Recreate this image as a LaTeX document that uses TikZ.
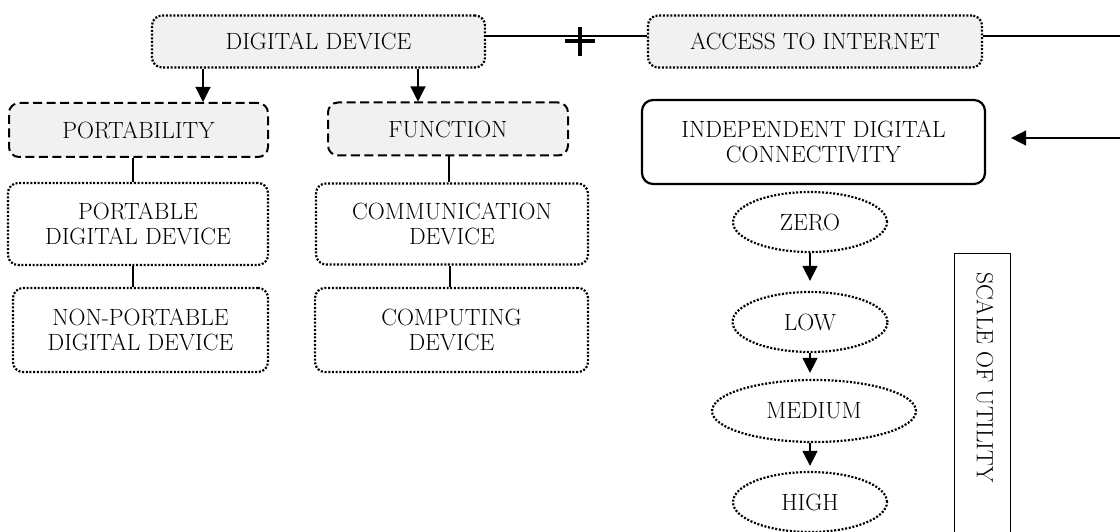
\documentclass[tikz,border=0pt]{standalone}
\usetikzlibrary{arrows.meta,shapes.geometric}
\definecolor{boxgray}{RGB}{241,241,241}
\tikzset{
  every node/.style={font=\fontsize{23.5}{25}\selectfont, align=center, inner sep=0pt},
  dotbox/.style={draw, rounded corners=10pt, line width=2.2pt, dash pattern=on 2pt off 1.7pt},
  dashbox/.style={draw, rounded corners=10pt, line width=2pt, dash pattern=on 9pt off 4.5pt, fill=boxgray},
  solidbox/.style={draw, rounded corners=11pt, line width=2.2pt},
  dotoval/.style={draw, ellipse, line width=2.2pt, dash pattern=on 2pt off 1.7pt},
  link/.style={line width=1.1pt},
  arrowlink/.style={line width=1.1pt, -{Triangle[length=15pt,width=15pt]}},
}
\begin{document}
\begin{tikzpicture}[x=1pt,y=1pt]
\useasboundingbox (0,0) rectangle (1120,531);

% top row
\node[dotbox, fill=boxgray, minimum width=333pt, minimum height=52pt] (dd) at (318.5,489.5) {DIGITAL DEVICE};
\node[dotbox, fill=boxgray, minimum width=334pt, minimum height=52pt] (acc) at (815,489.5) {ACCESS TO INTERNET};

% categories
\node[dashbox, minimum width=259pt, minimum height=54pt] (port) at (138.5,401) {PORTABILITY};
\node[dashbox, minimum width=240pt, minimum height=53pt] (func) at (448,402) {FUNCTION};

% device types
\node[dotbox, minimum width=260pt, minimum height=82pt] (pdd) at (138,307) {PORTABLE\\DIGITAL DEVICE};
\node[dotbox, minimum width=255pt, minimum height=84pt] (npdd) at (140.5,201) {NON-PORTABLE\\DIGITAL DEVICE};
\node[dotbox, minimum width=272pt, minimum height=81pt] (cd) at (452,307) {COMMUNICATION\\DEVICE};
\node[dotbox, minimum width=273pt, minimum height=84pt] (compd) at (451.5,201) {COMPUTING\\DEVICE};

% connectivity and its scale
\node[solidbox, minimum width=343pt, minimum height=84pt] (idc) at (813.5,389) {INDEPENDENT DIGITAL\\CONNECTIVITY};
\node[dotoval, minimum width=154pt, minimum height=60pt] (zero) at (810,309) {ZERO};
\node[dotoval, minimum width=155pt, minimum height=60pt] (low) at (810,209) {LOW};
\node[dotoval, minimum width=204pt, minimum height=62pt] (medium) at (814,120) {MEDIUM};
\node[dotoval, minimum width=154pt, minimum height=60pt] (high) at (810,29) {HIGH};

\node[draw, line width=1pt, minimum width=56pt, minimum height=300pt] (scalebox) at (982,127) {};
\node[rotate=-90, anchor=west] (scaletext) at (985,259) {SCALE OF UTILITY};

% connectors
\draw[link] ([yshift=5.5pt]dd.east) -- ([yshift=5.5pt]acc.west);
\draw[line width=4pt] (565,490) -- (595,490) (580,475) -- (580,504);
\draw[arrowlink] (dd.south -| 203,0) -- (port.north -| 203,0);
\draw[arrowlink] (dd.south -| 418,0) -- (func.north -| 418,0);
\draw[link] (port.south -| 133,0) -- (pdd.north -| 133,0);
\draw[link] (pdd.south -| 133,0) -- (npdd.north -| 133,0);
\draw[link] (func.south -| 449,0) -- (cd.north -| 449,0);
\draw[link] (cd.south -| 450,0) -- (compd.north -| 450,0);
\draw[arrowlink, shorten >=25pt] ([yshift=5.5pt]acc.east) -- (1130,495) |- ([yshift=4pt]idc.east);
\draw[arrowlink, shorten >=10pt] (zero.south) -- (low.north -| zero.south);
\draw[arrowlink, shorten >=6pt] (low.south -| zero.south) -- (medium.north -| zero.south);
\draw[arrowlink, shorten >=5pt] (medium.south -| zero.south) -- (high.north);
\end{tikzpicture}
\end{document}
